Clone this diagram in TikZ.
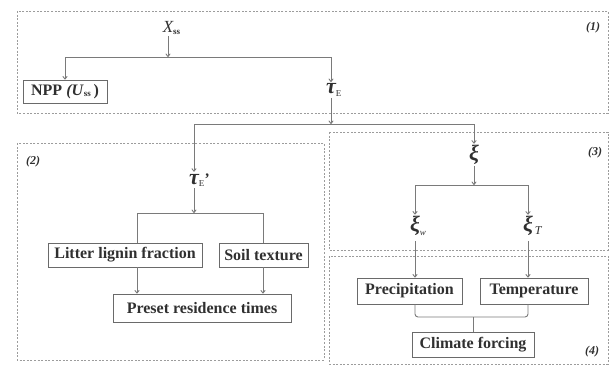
\documentclass[tikz,border=0pt]{standalone}
\usepackage{fontspec}
\setmainfont{Liberation Serif}
\usetikzlibrary{arrows.meta,calc}
\definecolor{ln}{HTML}{7A7A7A}
\definecolor{bx}{HTML}{6A6A6A}
\definecolor{tx}{HTML}{303030}
\definecolor{dsh}{HTML}{9C9C9C}
\newcommand\mysub[2][-2.5pt]{\raisebox{#1}{\fontsize{9}{9}\selectfont\mdseries\upshape #2}}
\newcommand\bigsym[1]{{\fontsize{22}{22}\selectfont\bfseries\itshape #1}}
\begin{document}
\begin{tikzpicture}[x=1pt,y=-1pt,
  font=\bfseries\fontsize{16}{18}\selectfont, text=tx,
  region/.style={draw=dsh, dash pattern=on 2pt off 1.6pt, line width=0.8pt},
  boxnode/.style={draw=bx, line width=0.9pt, inner sep=1pt, text=tx},
  sym/.style={inner sep=1.5pt},
  conn/.style={draw=ln, line width=0.9pt},
  arr/.style={conn, -{To[length=3.5pt,width=5pt]}},
  tag/.style={font=\bfseries\itshape\fontsize{12}{12}\selectfont, text=tx}]
\useasboundingbox (0,0) rectangle (610,366);
% regions
\draw[region] (17,11) rectangle (608,113);
\draw[region] (17,143) rectangle (324,360);
\draw[region] (329,132) rectangle (608,250);
\draw[region] (329,256) rectangle (608,364);
\node[tag] (t1) at (593,28) {(1)};
\node[tag] (t2) at (33,162) {(2)};
\node[tag] (t3) at (595,153) {(3)};
\node[tag] (t4) at (592,352) {(4)};
% bus coordinates
\coordinate (bus1) at (0,57);
\coordinate (bus2) at (0,124);
\coordinate (bus3) at (0,213);
\coordinate (bus4) at (0,185);
\coordinate (bus5) at (0,317);
\coordinate (lx) at (137,0);
\coordinate (sx) at (263,0);
% nodes
\node[sym] (xss) at (168,28) {{\fontsize{17}{17}\selectfont\mdseries\itshape X}\rlap{\mysub[-1.5pt]{\bfseries ss}}};
\node[boxnode, minimum width=84pt, minimum height=23pt] (npp) at (65,91.5) {NPP \textit{(U}\mysub[-1.5pt]{\bfseries ss}\,)};
\node[sym] (tauE) at (331,90) {\bigsym{τ}\rlap{\mysub{E}}};
\node[sym] (tauEp) at (194,180) {\bigsym{τ}\rlap{\mysub{E}\kern-0.5pt{\fontsize{16}{16}\selectfont\bfseries\itshape ’}}};
\node[boxnode, minimum width=154pt, minimum height=24pt] (litter) at (125,255) {Litter lignin fraction};
\node[boxnode, minimum width=89pt, minimum height=24pt] (soil) at (263.5,255) {Soil texture};
\node[boxnode, minimum width=178pt, minimum height=28pt] (preset) at (202,308) {Preset residence times};
\node[sym] (xi) at (474,155) {\bigsym{ξ}};
\node[sym] (xiw) at (415,226) {\bigsym{ξ}\rlap{\mysub[-4pt]{\itshape w}}};
\node[sym] (xiT) at (528,226) {\bigsym{ξ}\rlap{\raisebox{-3pt}{\fontsize{12}{12}\selectfont\mdseries\itshape\,T}}};
\node[boxnode, minimum width=105pt, minimum height=26pt] (precip) at (409.5,291) {Precipitation};
\node[boxnode, minimum width=108pt, minimum height=26pt] (temp) at (534,291) {Temperature};
\node[boxnode, minimum width=122pt, minimum height=25pt] (climate) at (473,344.5) {Climate forcing};
% connectors, part 1
\draw[arr] (xss.south) -- (xss.south |- bus1);
\draw[arr] (tauE.north |- bus1) -| (npp.north);
\draw[arr] (npp.north |- bus1) -| (tauE.north);
% tau_E down
\draw[arr] (tauE.south) -- (tauE.south |- bus2);
\draw[arr] (xi.north |- bus2) -| (tauEp.north);
\draw[arr] (tauEp.north |- bus2) -| (xi.north);
% part 2
\draw[arr] (tauEp.south) -- (tauEp.south |- bus3);
\draw[conn] (lx |- litter.north) |- (sx |- bus3) -- (sx |- soil.north);
\draw[arr] (lx |- litter.south) -- (lx |- preset.north);
\draw[arr] (sx |- soil.south) -- (sx |- preset.north);
% part 3
\draw[arr] (xi.south) -- (xi.south |- bus4);
\draw[arr] (xiT.north |- bus4) -| (xiw.north);
\draw[arr] (xiw.north |- bus4) -| (xiT.north);
% part 4
\draw[arr] ([yshift=-4pt]xiw.south) -- (xiw.south |- precip.north);
\draw[arr] ([yshift=-4pt]xiT.south) -- (xiT.south |- temp.north);
\draw[conn, rounded corners=3pt] (xiw.south |- precip.south) |- (climate.north |- bus5) -| (xiT.south |- temp.south);
\draw[conn] (climate.north |- bus5) -- (climate.north);
\end{tikzpicture}
\end{document}
